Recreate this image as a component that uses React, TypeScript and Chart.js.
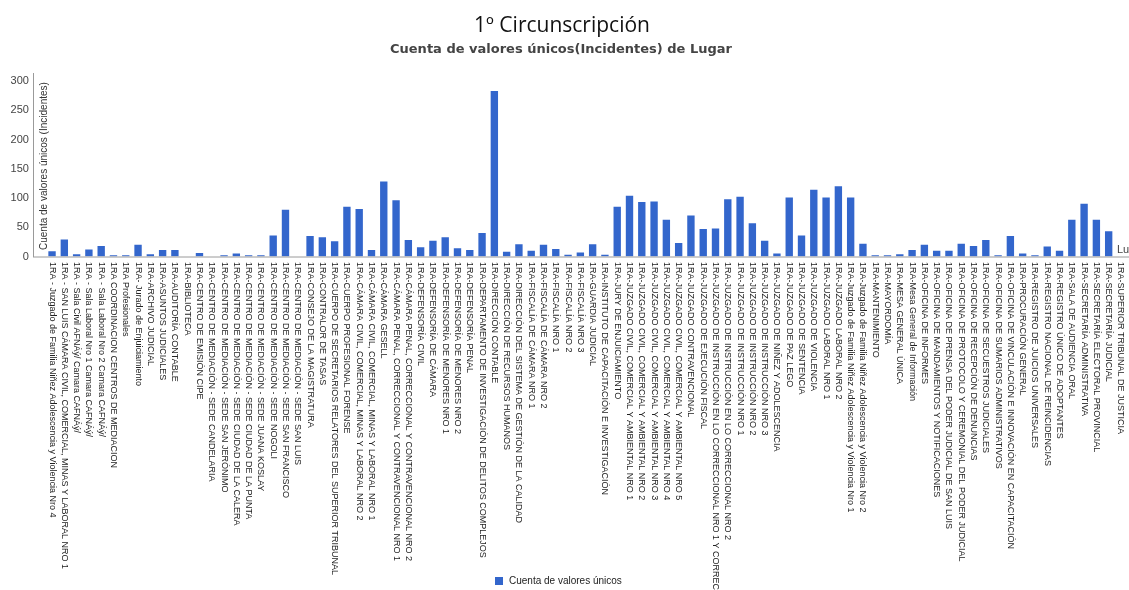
import React, { useEffect, useRef } from "react";
import { Chart, registerables } from "chart.js";

Chart.register(...registerables);

const chartTitle = "1º Circunscripción";
const chartSubtitle = "Cuenta de valores únicos(Incidentes) de Lugar";
const yAxisTitle = "Cuenta de valores únicos (Incidentes)";
const xAxisTitle = "Lugar";
const seriesName = "Cuenta de valores únicos";

const categories: string[] = [
  "1RA - Juzgado de Familia Niñez Adolescencia y Violencia Nro 4",
  "1RA - SAN LUIS CÁMARA CIVIL, COMERCIAL, MINAS Y LABORAL NRO 1",
  "1RA - Sala Civil AFNÁý/ Camara CAFNÁý/",
  "1RA - Sala Laboral Nro 1 Camara CAFNÁý/",
  "1RA - Sala Laboral Nro 2 Camara CAFNÁý/",
  "1RA COORDINACION CENTROS DE MEDIACION",
  "1RA Profesionales",
  "1RA- Jurado de Enjuiciamiento",
  "1RA-ARCHIVO JUDICIAL",
  "1RA-ASUNTOS JUDICIALES",
  "1RA-AUDITORÍA CONTABLE",
  "1RA-BIBLIOTECA",
  "1RA-CENTRO DE EMISIÓN CIPE",
  "1RA-CENTRO DE MEDIACIÓN - SEDE CANDELARIA",
  "1RA-CENTRO DE MEDIACIÓN - SEDE SAN JERÓNIMO",
  "1RA-CENTRO DE MEDIACIÓN - SEDE CIUDAD DE LA CALERA",
  "1RA-CENTRO DE MEDIACIÓN - SEDE CIUDAD DE LA PUNTA",
  "1RA-CENTRO DE MEDIACIÓN - SEDE JUANA KOSLAY",
  "1RA-CENTRO DE MEDIACIÓN - SEDE NOGOLI",
  "1RA-CENTRO DE MEDIACIÓN - SEDE SAN FRANCISCO",
  "1RA-CENTRO DE MEDIACIÓN - SEDE SAN LUIS",
  "1RA-CONSEJO DE LA MAGISTRATURA",
  "1RA-CONTRALOR DE TASAS",
  "1RA-CUERPO DE SECRETARIOS RELATORES DEL SUPERIOR TRIBUNAL",
  "1RA-CUERPO PROFESIONAL FORENSE",
  "1RA-CÁMARA CIVIL, COMERCIAL, MINAS Y LABORAL NRO 2",
  "1RA-CÁMARA CIVIL, COMERCIAL, MINAS Y LABORAL NRO 1",
  "1RA-CÁMARA GESELL",
  "1RA-CÁMARA PENAL, CORRECCIONAL Y CONTRAVENCIONAL NRO 1",
  "1RA-CÁMARA PENAL, CORRECCIONAL Y CONTRAVENCIONAL NRO 2",
  "1RA-DEFENSORÍA CIVIL",
  "1RA-DEFENSORÍA DE CÁMARA",
  "1RA-DEFENSORÍA DE MENORES NRO 1",
  "1RA-DEFENSORÍA DE MENORES NRO 2",
  "1RA-DEFENSORÍA PENAL",
  "1RA-DEPARTAMENTO DE INVESTIGACIÓN DE DELITOS COMPLEJOS",
  "1RA-DIRECCIÓN CONTABLE",
  "1RA-DIRECCIÓN DE RECURSOS HUMANOS",
  "1RA-DIRECCIÓN DEL SISTEMA DE GESTIÓN DE LA CALIDAD",
  "1RA-FISCALÍA DE CÁMARA NRO 1",
  "1RA-FISCALÍA DE CÁMARA NRO 2",
  "1RA-FISCALÍA NRO 1",
  "1RA-FISCALÍA NRO 2",
  "1RA-FISCALÍA NRO 3",
  "1RA-GUARDIA JUDICIAL",
  "1RA-INSTITUTO DE CAPACITACIÓN E INVESTIGACIÓN",
  "1RA-JURY DE ENJUICIAMIENTO",
  "1RA-JUZGADO CIVIL, COMERCIAL Y AMBIENTAL NRO 1",
  "1RA-JUZGADO CIVIL, COMERCIAL Y AMBIENTAL NRO 2",
  "1RA-JUZGADO CIVIL, COMERCIAL Y AMBIENTAL NRO 3",
  "1RA-JUZGADO CIVIL, COMERCIAL Y AMBIENTAL NRO 4",
  "1RA-JUZGADO CIVIL, COMERCIAL Y AMBIENTAL NRO 5",
  "1RA-JUZGADO CONTRAVENCIONAL",
  "1RA-JUZGADO DE EJECUCIÓN FISCAL",
  "1RA-JUZGADO DE INSTRUCCIÓN EN LO CORRECCIONAL NRO 1 Y CORRECCIONAL",
  "1RA-JUZGADO DE INSTRUCCIÓN EN LO CORRECCIONAL NRO 2",
  "1RA-JUZGADO DE INSTRUCCIÓN NRO 1",
  "1RA-JUZGADO DE INSTRUCCIÓN NRO 2",
  "1RA-JUZGADO DE INSTRUCCIÓN NRO 3",
  "1RA-JUZGADO DE NIÑEZ Y ADOLESCENCIA",
  "1RA-JUZGADO DE PAZ LEGO",
  "1RA-JUZGADO DE SENTENCIA",
  "1RA-JUZGADO DE VIOLENCIA",
  "1RA-JUZGADO LABORAL NRO 1",
  "1RA-JUZGADO LABORAL NRO 2",
  "1RA-Juzgado de Familia Niñez Adolescencia y Violencia Nro 1",
  "1RA-Juzgado de Familia Niñez Adolescencia y Violencia Nro 2",
  "1RA-MANTENIMIENTO",
  "1RA-MAYORDOMÍA",
  "1RA-MESA GENERAL ÚNICA",
  "1RA-Mesa General de Información",
  "1RA-OFICINA DE INFORMES",
  "1RA-OFICINA DE MANDAMIENTOS Y NOTIFICACIONES",
  "1RA-OFICINA DE PRENSA DEL PODER JUDICIAL DE SAN LUIS",
  "1RA-OFICINA DE PROTOCOLO Y CEREMONIAL DEL PODER JUDICIAL",
  "1RA-OFICINA DE RECEPCIÓN DE DENUNCIAS",
  "1RA-OFICINA DE SECUESTROS JUDICIALES",
  "1RA-OFICINA DE SUMARIOS ADMINISTRATIVOS",
  "1RA-OFICINA DE VINCULACIÓN E INNOVACIÓN EN CAPACITACIÓN",
  "1RA-PROCURACIÓN GENERAL",
  "1RA-REGISTRO DE JUICIOS UNIVERSALES",
  "1RA-REGISTRO NACIONAL DE REINCIDENCIAS",
  "1RA-REGISTRO ÚNICO DE ADOPTANTES",
  "1RA-SALA DE AUDIENCIA ORAL",
  "1RA-SECRETARÍA ADMINISTRATIVA",
  "1RA-SECRETARÍA ELECTORAL PROVINCIAL",
  "1RA-SECRETARÍA JUDICIAL",
  "1RA-SUPERIOR TRIBUNAL DE JUSTICIA",
];

const counts: number[] = [
  9, 29, 4, 12, 18, 2, 2, 20, 4, 11,
  11, 0, 6, 0, 2, 5, 2, 2, 36, 80,
  0, 35, 33, 26, 85, 81, 11, 128, 96, 28,
  16, 27, 33, 14, 11, 40, 283, 8, 21, 10,
  20, 13, 3, 7, 21, 3, 85, 104, 93, 94,
  63, 23, 70, 47, 48, 98, 102, 57, 27, 5,
  101, 36, 114, 101, 120, 101, 22, 2, 2, 4,
  11, 20, 10, 10, 22, 18, 28, 2, 35, 5,
  2, 17, 10, 63, 90, 63, 43, 0,
];

const yMin = 0;
const yMax = 300;
const yStep = 50;

const W = 1129;
const H = 590;

const overlayPlugin = {
  id: "overlay",
  afterDraw(chart: any) {
    const ctx = chart.ctx;
    const xs = chart.scales.x;
    const area = chart.chartArea;
    ctx.save();

    // axis lines
    ctx.strokeStyle = "#9a9a9a";
    ctx.lineWidth = 1;
    ctx.beginPath();
    ctx.moveTo(33.5, 73);
    ctx.lineTo(33.5, area.bottom + 0.5);
    ctx.stroke();
    ctx.beginPath();
    ctx.moveTo(33, area.bottom + 0.5);
    ctx.lineTo(W, area.bottom + 0.5);
    ctx.stroke();

    // titles
    ctx.textAlign = "center";
    ctx.textBaseline = "alphabetic";
    ctx.fillStyle = "#111";
    ctx.font = "21px 'Open Sans'";
    ctx.fillText(chartTitle, 562, 32);
    ctx.fillStyle = "#444";
    ctx.font = "bold 13px 'DejaVu Sans'";
    ctx.fillText(chartSubtitle, 561, 53);

    // y axis title (rotated, inside plot)
    ctx.save();
    ctx.translate(44, 250);
    ctx.rotate(-Math.PI / 2);
    ctx.textAlign = "left";
    ctx.textBaseline = "middle";
    ctx.fillStyle = "#333";
    ctx.font = "10px 'Liberation Sans'";
    ctx.fillText(yAxisTitle, 0, 0);
    ctx.restore();

    // x tick labels, reading top to bottom
    ctx.fillStyle = "#222";
    ctx.font = "9px 'Liberation Sans'";
    categories.forEach((label, i) => {
      const x = xs.getPixelForValue(i);
      ctx.save();
      ctx.translate(x, area.bottom + 5.5);
      ctx.rotate(Math.PI / 2);
      ctx.textAlign = "left";
      ctx.textBaseline = "middle";
      ctx.fillText(label, 0, 0);
      ctx.restore();
    });

    // x axis title (clipped at right edge)
    ctx.textAlign = "left";
    ctx.textBaseline = "alphabetic";
    ctx.fillStyle = "#444";
    ctx.font = "11px 'Liberation Sans'";
    ctx.fillText(xAxisTitle, 1117, 253);

    // legend
    ctx.fillStyle = "#3366cc";
    ctx.fillRect(495, 577, 8, 8);
    ctx.fillStyle = "#222";
    ctx.font = "10px 'Liberation Sans'";
    ctx.textBaseline = "middle";
    ctx.fillText(seriesName, 509, 581.5);

    ctx.restore();
  },
};

export default function App() {
  const canvasRef = useRef<HTMLCanvasElement | null>(null);

  useEffect(() => {
    document.body.style.margin = "0";
    const canvas = canvasRef.current;
    if (!canvas) return;
    const chart = new Chart(canvas, {
      type: "bar",
      data: {
        labels: categories,
        datasets: [
          {
            label: seriesName,
            data: counts,
            backgroundColor: "#3366cc",
            borderWidth: 0,
            barPercentage: 0.6,
            categoryPercentage: 1,
          },
        ],
      },
      options: {
        responsive: false,
        animation: false,
        devicePixelRatio: 1,
        layout: { padding: { top: 81, left: 0, right: 1.9, bottom: 0 } },
        plugins: {
          legend: { display: false },
          title: { display: false },
          tooltip: { enabled: false },
        },
        scales: {
          x: {
            type: "category",
            offset: true,
            grid: { display: false },
            border: { display: false },
            ticks: { display: false, autoSkip: false },
            afterFit: (s: any) => {
              s.height = H - 256.5;
            },
          },
          y: {
            min: yMin,
            max: yMax,
            grid: { display: false, drawTicks: false },
            border: { display: false },
            ticks: {
              stepSize: yStep,
              padding: 17,
              color: "#444",
              font: { family: "'Liberation Sans'", size: 11 },
            },
            afterFit: (s: any) => {
              s.width = 45.9;
            },
          },
        },
      },
      plugins: [overlayPlugin],
    });
    return () => chart.destroy();
  }, []);

  return (
    <div style={{ position: "absolute", left: 0, top: 0, width: W, height: H }}>
      <canvas ref={canvasRef} width={W} height={H} style={{ width: W, height: H }} />
    </div>
  );
}
